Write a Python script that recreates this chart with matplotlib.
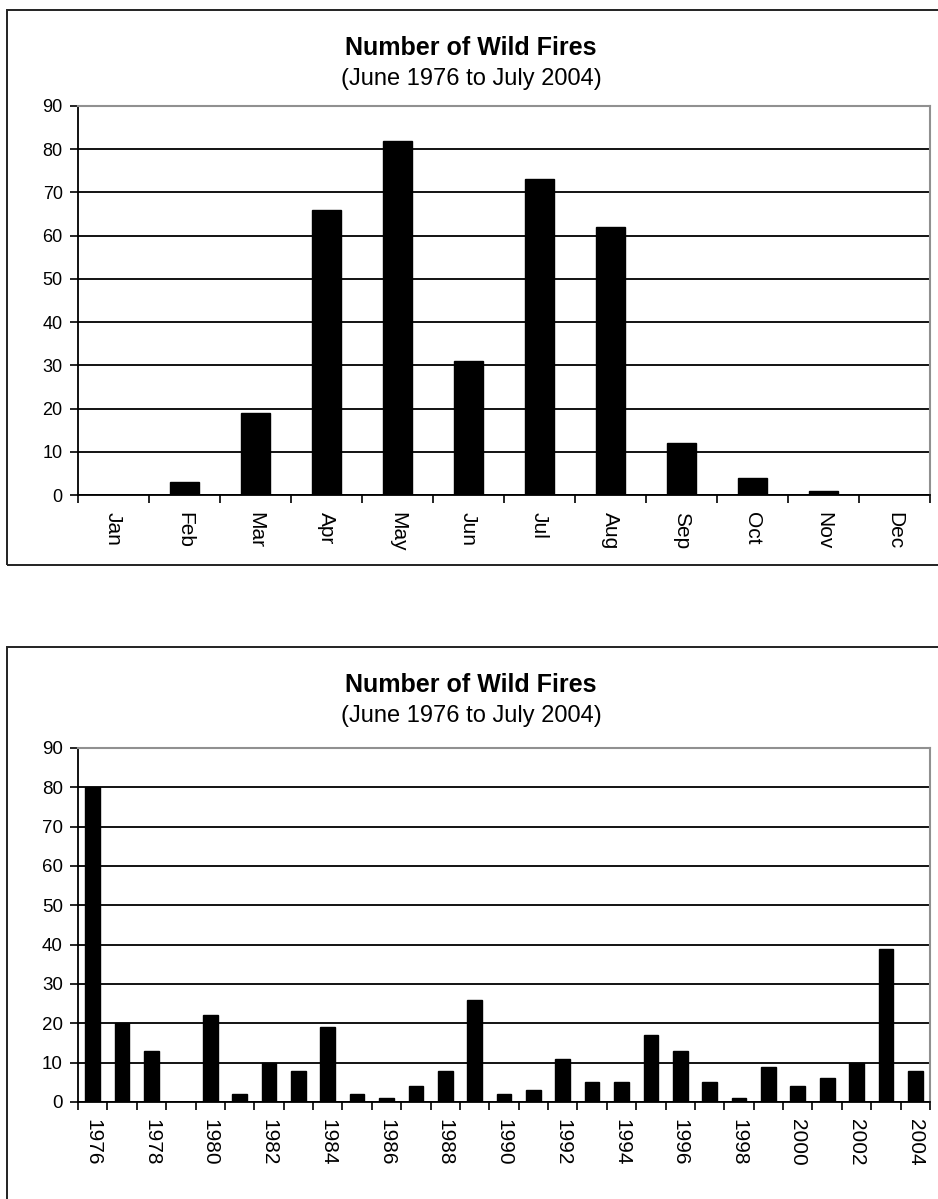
import matplotlib
matplotlib.use("Agg")
import matplotlib.pyplot as plt
from matplotlib.patches import Rectangle
import numpy as np

plt.rcParams['font.family'] = ['Liberation Sans', 'DejaVu Sans']

# data
months = ['Jan', 'Feb', 'Mar', 'Apr', 'May', 'Jun', 'Jul', 'Aug', 'Sep', 'Oct', 'Nov', 'Dec']
fires_by_month = [0, 3, 19, 66, 82, 31, 73, 62, 12, 4, 1, 0]

years = list(range(1976, 2005))
fires_by_year = [80, 20, 13, 0, 22, 2, 10, 8, 19, 2, 1, 4, 8, 26,
                 2, 3, 11, 5, 5, 17, 13, 5, 1, 9, 4, 6, 10, 39, 8]

title = 'Number of Wild Fires'
subtitle = '(June 1976 to July 2004)'

W, H = 938, 1199
fig = plt.figure(figsize=(W / 100, H / 100), dpi=100)


def fx(px):
    return px / W


def fy(py):
    return 1 - py / H


def draw_chart(ax, labels, values, bar_w, label_step, xsize, ysize):
    n = len(values)
    x = np.arange(n)
    ax.set_axisbelow(True)
    ax.bar(x, values, width=bar_w, color='black', edgecolor='black', zorder=3)
    ax.set_xlim(-0.5, n - 0.5)
    ax.set_ylim(0, 90)
    ax.set_yticks(range(0, 91, 10))
    ax.yaxis.grid(True, color='black', linewidth=1.3)
    # category boundaries get the tick marks, centres get the labels
    ax.set_xticks(np.arange(-0.5, n, 1.0))
    ax.set_xticklabels([])
    ax.set_xticks(x[::label_step], minor=True)
    ax.set_xticklabels(labels[::label_step], minor=True, rotation=270,
                       ha='center', va='top', fontsize=xsize)
    ax.tick_params(axis='x', which='major', direction='out', length=6, width=1.2, color='black')
    ax.tick_params(axis='x', which='minor', length=0, pad=12)
    ax.tick_params(axis='y', direction='out', length=6, width=1.2, labelsize=ysize, pad=5)
    for s in ['left', 'bottom']:
        ax.spines[s].set_color('black')
        ax.spines[s].set_linewidth(1.3)
    for s in ['top', 'right']:
        ax.spines[s].set_color('#909090')
        ax.spines[s].set_linewidth(1.5)


# top chart: by month
ax1 = fig.add_axes([fx(78), fy(495), fx(930 - 78), (495 - 106) / H])
draw_chart(ax1, months, fires_by_month, 0.42, 1, 15, 13)

# bottom chart: by year
ax2 = fig.add_axes([fx(78), fy(1102), fx(930 - 78), (1102 - 748) / H])
draw_chart(ax2, [str(y) for y in years], fires_by_year, 0.5, 2, 15, 13.5)

# titles and panel frames
for top, bottom in [(10, 565), (647, 1215)]:
    fig.add_artist(Rectangle((fx(7), fy(bottom)), fx(945 - 7), (bottom - top) / H,
                             transform=fig.transFigure, fill=False,
                             edgecolor='#222222', linewidth=1.4))
    fig.text(0.502, fy(top + 38), title, ha='center', va='center',
             fontsize=18, fontweight='bold')
    fig.text(0.502, fy(top + 69), subtitle, ha='center', va='center', fontsize=17)

fig.savefig('out.png', dpi=100)
